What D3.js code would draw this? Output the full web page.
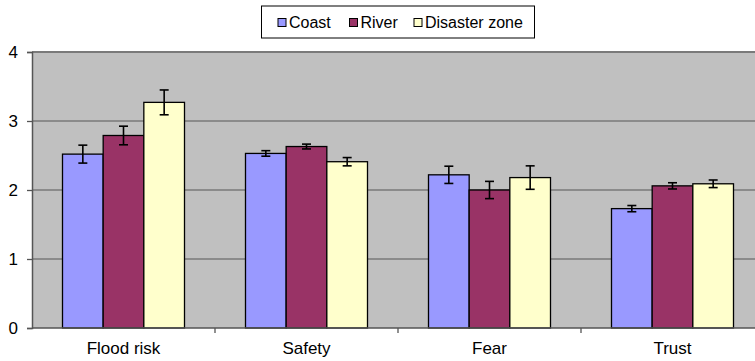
<!DOCTYPE html>
<html>
<head>
<meta charset="utf-8">
<script src="https://cdn.jsdelivr.net/npm/d3@7"></script>
<style>
  html, body { margin: 0; padding: 0; background: #fff; }
  svg { display: block; font-family: "Liberation Sans", Arial, sans-serif; }
</style>
</head>
<body>
<svg id="chart" width="755" height="361"></svg>
<script>
const categories = ["Flood risk", "Safety", "Fear", "Trust"];
const series = ["Coast", "River", "Disaster zone"];
const coastValues = [2.52, 2.53, 2.22, 1.73];
const riverValues = [2.79, 2.63, 2.00, 2.06];
const disasterValues = [3.27, 2.41, 2.18, 2.09];
const coastErrors = [0.13, 0.04, 0.125, 0.045];
const riverErrors = [0.135, 0.035, 0.125, 0.045];
const disasterErrors = [0.18, 0.06, 0.17, 0.055];
const yTicks = [0, 1, 2, 3, 4];
const colors = ["#9999FF", "#993366", "#FFFFCC"];

const valuesBySeries = [coastValues, riverValues, disasterValues];
const errorsBySeries = [coastErrors, riverErrors, disasterErrors];

const FONT = "'Liberation Sans', Arial, sans-serif";
const svg = d3.select("#chart");
const plotLeft = 32, plotRight = 764, plotTop = 52, plotBottom = 328;

const x0 = d3.scaleBand().domain(categories).range([plotLeft, plotRight]).padding(0);
const x1 = d3.scaleBand().domain(series).range([0, x0.bandwidth()]).paddingInner(0).paddingOuter(0.75);
const y = d3.scaleLinear().domain([0, 4]).range([plotBottom, plotTop]);
const color = d3.scaleOrdinal().domain(series).range(colors);

// plot background
svg.append("rect").attr("x", plotLeft).attr("y", plotTop)
  .attr("width", plotRight - plotLeft).attr("height", plotBottom - plotTop)
  .attr("fill", "#C0C0C0");

// gridlines
svg.append("g").selectAll("line").data(yTicks.filter(t => t > 0)).join("line")
  .attr("x1", plotLeft).attr("x2", plotRight)
  .attr("y1", d => y(d)).attr("y2", d => y(d))
  .attr("stroke", "#7a7a7a").attr("stroke-width", d => d === 4 ? 2 : 1.3);

// data rows
const rows = [];
categories.forEach((c, i) => {
  series.forEach((s, j) => {
    rows.push({ cat: c, ser: s, v: valuesBySeries[j][i], e: errorsBySeries[j][i] });
  });
});

// bars
svg.append("g").selectAll("rect").data(rows).join("rect")
  .attr("x", d => x0(d.cat) + x1(d.ser))
  .attr("y", d => y(d.v))
  .attr("width", x1.bandwidth())
  .attr("height", d => y(0) - y(d.v))
  .attr("fill", d => color(d.ser))
  .attr("stroke", "#000").attr("stroke-width", 1.3);

// error bars
const eg = svg.append("g").attr("stroke", "#000").attr("stroke-width", 1.6);
rows.forEach(d => {
  const cx = x0(d.cat) + x1(d.ser) + x1.bandwidth() / 2;
  eg.append("line").attr("x1", cx).attr("x2", cx).attr("y1", y(d.v + d.e)).attr("y2", y(d.v - d.e));
  eg.append("line").attr("x1", cx - 4.5).attr("x2", cx + 4.5).attr("y1", y(d.v + d.e)).attr("y2", y(d.v + d.e));
  eg.append("line").attr("x1", cx - 4.5).attr("x2", cx + 4.5).attr("y1", y(d.v - d.e)).attr("y2", y(d.v - d.e));
});

// y axis
const yAxis = d3.axisLeft(y).tickValues(yTicks).tickSize(5).tickPadding(9).tickFormat(d3.format("d"));
const yg = svg.append("g").attr("transform", `translate(${plotLeft},0)`).call(yAxis);
yg.select(".domain").attr("stroke", "#555").attr("stroke-width", 1.5);
yg.selectAll(".tick line").attr("stroke", "#555").attr("stroke-width", 1.3);
yg.selectAll(".tick text").attr("font-size", 17).attr("fill", "#000")
  .attr("font-family", FONT);

// x axis
const xg = svg.append("g").attr("transform", `translate(0,${plotBottom})`);
xg.append("line").attr("x1", plotLeft).attr("x2", plotRight).attr("y1", 0).attr("y2", 0)
  .attr("stroke", "#555").attr("stroke-width", 1.5);
const boundaries = categories.map(c => x0(c)).concat([plotRight]).slice(1);
xg.selectAll("line.tk").data(boundaries).join("line").attr("class", "tk")
  .attr("x1", d => d).attr("x2", d => d).attr("y1", 0).attr("y2", 5)
  .attr("stroke", "#555").attr("stroke-width", 1.3);
xg.selectAll("text").data(categories).join("text")
  .attr("x", d => x0(d) + x0.bandwidth() / 2)
  .attr("y", 26)
  .attr("text-anchor", "middle")
  .attr("font-size", 17)
  .attr("font-family", FONT)
  .attr("fill", "#000")
  .text(d => d);

// legend
const lg = svg.append("g");
lg.append("rect").attr("x", 261.5).attr("y", 6).attr("width", 273).attr("height", 32)
  .attr("fill", "#fff").attr("stroke", "#000").attr("stroke-width", 1);
const legendX = [278, 349.5, 414];
series.forEach((s, i) => {
  lg.append("rect").attr("x", legendX[i]).attr("y", 18.5).attr("width", 8).attr("height", 8)
    .attr("fill", color(s)).attr("stroke", "#000").attr("stroke-width", 1);
  lg.append("text").attr("x", legendX[i] + 11).attr("y", 27.5)
    .attr("font-size", 16).attr("font-family", FONT).attr("fill", "#000").text(s);
});
</script>
</body>
</html>
